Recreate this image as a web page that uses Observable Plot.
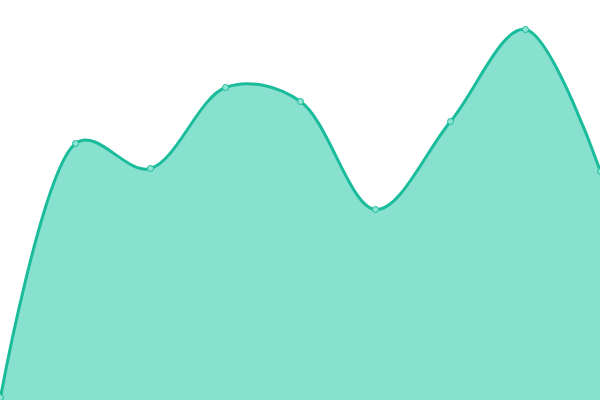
<!DOCTYPE html>
<html>
<head>
<meta charset="utf-8">
<script src="https://cdn.jsdelivr.net/npm/d3@7"></script>
<script src="https://cdn.jsdelivr.net/npm/@observablehq/plot@0.6"></script>
<style>
html,body{margin:0;padding:0;background:#fff;}
</style>
</head>
<body>
<div id="chart"></div>
<script>
const xs = [0, 1, 2, 3, 4, 5, 6, 7, 8];
const values = [3, 257, 232, 313, 299, 191, 279, 371, 229];
const data = xs.map((x, i) => ({x, y: values[i]}));
const curve = d3.curveCatmullRom.alpha(0.35);

const chart = Plot.plot({
  width: 600,
  height: 400,
  margin: 0,
  x: {domain: [0, 8], range: [0, 600], axis: null},
  y: {domain: [0, 400], range: [400, 0], axis: null},
  marks: [
    Plot.areaY(data, {x: "x", y: "y", curve, fill: "#88e0cf"}),
    Plot.lineY(data, {x: "x", y: "y", curve, stroke: "#1abc9c", strokeWidth: 3}),
    Plot.dot(data, {x: "x", y: "y", r: 3, fill: "#8ee3d0", stroke: "#1abc9c", strokeWidth: 1})
  ]
});
document.getElementById("chart").appendChild(chart);
</script>
</body>
</html>
